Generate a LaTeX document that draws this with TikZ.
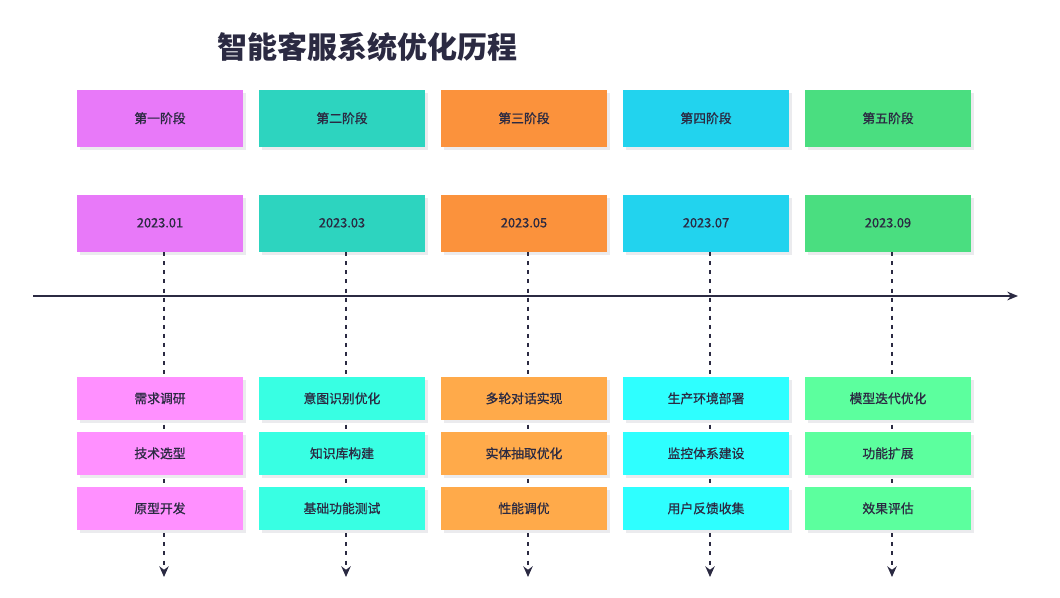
\documentclass[tikz,border=0pt]{standalone}
\usepackage{fontspec}
\setmainfont{Noto Sans CJK SC}
\newfontfamily\boxfont[FakeBold=0.8]{Noto Sans CJK SC}
\usetikzlibrary{arrows.meta,shadows}
\definecolor{ink}{HTML}{2B2A42}
\definecolor{shadowc}{HTML}{EBEBEE}
\definecolor{dark1}{HTML}{E879F9}
\definecolor{dark2}{HTML}{2DD4BF}
\definecolor{dark3}{HTML}{FB923C}
\definecolor{dark4}{HTML}{22D3EE}
\definecolor{dark5}{HTML}{4ADE80}
\definecolor{light1}{HTML}{FF90FF}
\definecolor{light2}{HTML}{38FFE3}
\definecolor{light3}{HTML}{FFAA4A}
\definecolor{light4}{HTML}{2EFFFF}
\definecolor{light5}{HTML}{5CFF9E}
\tikzset{
  box/.style={rectangle, inner sep=0pt, minimum width=124.5pt, text=ink,
    font=\boxfont\fontsize{9.6pt}{11pt}\selectfont,
    drop shadow={shadow xshift=2.2pt, shadow yshift=-2.2pt, fill=shadowc, opacity=1}},
  hibox/.style={box, minimum height=42.75pt},
  taskbox/.style={box, minimum height=32.25pt},
  guide/.style={draw=ink, line width=1.2pt, dash pattern=on 3pt off 3.8pt,
    -{Stealth[length=8pt,width=7pt]}},
  axisline/.style={draw=ink, line width=1.5pt, -{Stealth[length=8pt,width=6.5pt]}},
  titletext/.style={text=ink, font=\fontsize{22.5pt}{26pt}\selectfont\bfseries}
}
\begin{document}
\begin{tikzpicture}[x=0.75pt,y=-0.75pt]
\useasboundingbox[fill=white] (0,0) rectangle (1060,598);
\node[titletext] (title) at (367,47) {智能客服系统优化历程};
\coordinate (axL) at (33,296);
\coordinate (axR) at (1018,296);
\foreach \i/\cx/\ph/\dt/\ta/\tb/\tc in {
  1/160/第一阶段/2023.01/需求调研/技术选型/原型开发,
  2/342/第二阶段/2023.03/意图识别优化/知识库构建/基础功能测试,
  3/524/第三阶段/2023.05/多轮对话实现/实体抽取优化/性能调优,
  4/706/第四阶段/2023.07/生产环境部署/监控体系建设/用户反馈收集,
  5/888/第五阶段/2023.09/模型迭代优化/功能扩展/效果评估}
{
  \node[hibox, fill=dark\i] (p\i) at (\cx,118.5) {\raisebox{1.2pt}{\ph}};
  \node[hibox, fill=dark\i] (d\i) at (\cx,223.5) {\raisebox{1.2pt}{\dt}};
  \coordinate (e\i) at (\cx+4,577);
  \draw[guide] (d\i.south -| e\i) -- (e\i);
  \node[taskbox, fill=light\i] (ta\i) at (\cx,398.5) {\raisebox{1pt}{\ta}};
  \node[taskbox, fill=light\i] (tb\i) at (\cx,453.5) {\raisebox{1pt}{\tb}};
  \node[taskbox, fill=light\i] (tc\i) at (\cx,508.5) {\raisebox{1pt}{\tc}};
}
\draw[axisline] (axL) -- (axR);
\end{tikzpicture}
\end{document}
